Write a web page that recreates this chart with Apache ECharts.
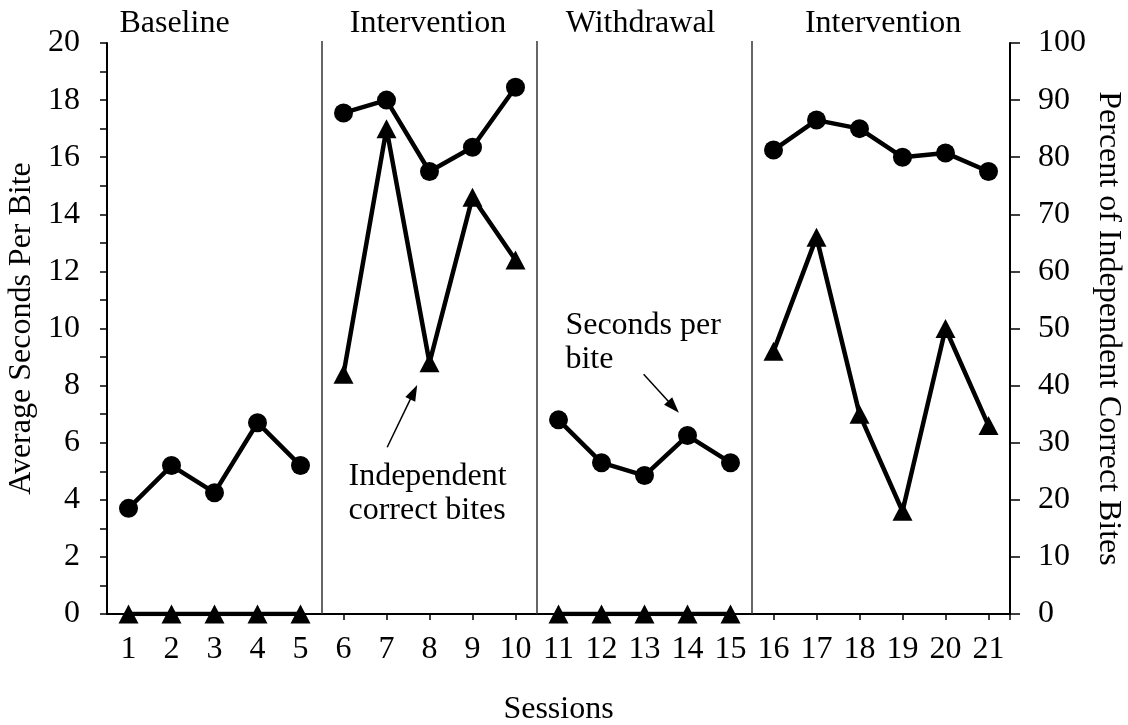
<!DOCTYPE html>
<html>
<head>
<meta charset="utf-8">
<script src="https://cdn.jsdelivr.net/npm/echarts@6/dist/echarts.min.js"></script>
<style>
  html, body { margin: 0; padding: 0; background: #fff; }
  #chart { width: 1128px; height: 725px; }
</style>
</head>
<body>
<div id="chart"></div>
<script>
// Session numbers along the x axis
const sessions = ['1','2','3','4','5','6','7','8','9','10','11','12','13','14','15','16','17','18','19','20','21'];

// Average seconds per bite (left axis, circles)
const secondsPerBite = [3.7, 5.2, 4.25, 6.7, 5.2, 17.55, 18.0, 15.5, 16.35, 18.45, 6.8, 5.3, 4.85, 6.25, 5.3, 16.25, 17.3, 17.0, 16.0, 16.15, 15.5];

// Percent of independent correct bites (right axis, triangles)
const pctIndependent = [0, 0, 0, 0, 0, 42, 85, 44, 73, 62, 0, 0, 0, 0, 0, 46, 66, 35, 18, 50, 33];

// Study phases: label and first/last session of each
const phaseNames = ['Baseline', 'Intervention', 'Withdrawal', 'Intervention'];
const phaseStart = [1, 6, 11, 16];
const phaseEnd = [5, 10, 15, 21];

// Axis ranges and tick steps
const leftTicks = { min: 0, max: 20, step: 2 };
const rightTicks = { min: 0, max: 100, step: 10 };

// Axis titles and annotation texts
const leftTitle = 'Average Seconds Per Bite';
const rightTitle = 'Percent of Independent Correct Bites';
const xTitle = 'Sessions';
const noteIndependent = 'Independent\ncorrect bites';
const noteSeconds = 'Seconds per\nbite';

// ---- layout (session / left-axis value coordinates for labels and arrows) ----
const phaseLabelAt = [2.07, 7.965, 12.91, 18.55];
const layout = {
  noteIndependent: { s: 6.116, v: 4.22 },
  noteSeconds: { s: 11.16, v: 9.52 },
  arrowIndependent: { from: [7.016, 5.84], to: [7.714, 8.02] },
  arrowSeconds: { from: [12.98, 8.40], to: [13.80, 7.05] }
};

const FONT = "'Liberation Serif', 'Times New Roman', serif";
const FS = 32;

const chart = echarts.init(document.getElementById('chart'), null, { renderer: 'canvas' });

function phaseData(values, p) {
  return values.map((v, i) => {
    const s = i + 1;
    return (s >= phaseStart[p] && s <= phaseEnd[p]) ? v : null;
  });
}

const series = [];
phaseNames.forEach((name, p) => {
  series.push({
    type: 'line',
    name: 'pct' + p,
    yAxisIndex: 1,
    data: phaseData(pctIndependent, p),
    symbol: 'triangle',
    symbolSize: [20, 19],
    showSymbol: true,
    connectNulls: false,
    lineStyle: { color: '#000', width: 4.5 },
    itemStyle: { color: '#000' },
    emphasis: { disabled: true },
    z: 3
  });
  series.push({
    type: 'line',
    name: 'spb' + p,
    yAxisIndex: 0,
    data: phaseData(secondsPerBite, p),
    symbol: 'circle',
    symbolSize: 19,
    showSymbol: true,
    connectNulls: false,
    lineStyle: { color: '#000', width: 4.5 },
    itemStyle: { color: '#000' },
    emphasis: { disabled: true },
    z: 4
  });
});

chart.setOption({
  animation: false,
  backgroundColor: '#fff',
  textStyle: { fontFamily: FONT, color: '#000' },
  grid: { left: 107, right: 118, top: 43, bottom: 111, containLabel: false, outerBoundsMode: 'none' },
  xAxis: {
    type: 'category',
    data: sessions,
    boundaryGap: true,
    axisLine: { show: true, lineStyle: { color: '#000', width: 2 } },
    axisTick: { show: true, alignWithLabel: true, length: 6, lineStyle: { color: '#000', width: 1.5 } },
    axisLabel: { fontFamily: FONT, fontSize: FS, color: '#000', margin: 20, interval: 0 },
    splitLine: { show: false }
  },
  yAxis: [
    {
      type: 'value',
      position: 'left',
      min: leftTicks.min,
      max: leftTicks.max,
      interval: leftTicks.step,
      axisLine: { show: true, lineStyle: { color: '#000', width: 2 } },
      axisTick: { show: true, length: 7, lineStyle: { color: '#000', width: 1.5 } },
      minorTick: { show: true, splitNumber: 2, length: 7, lineStyle: { color: '#000', width: 1.5 } },
      axisLabel: { fontFamily: FONT, fontSize: FS, color: '#000', margin: 27 },
      splitLine: { show: false }
    },
    {
      type: 'value',
      position: 'right',
      min: rightTicks.min,
      max: rightTicks.max,
      interval: rightTicks.step,
      axisLine: { show: true, lineStyle: { color: '#000', width: 2 } },
      axisTick: { show: true, length: 10, lineStyle: { color: '#000', width: 1.5 } },
      axisLabel: { fontFamily: FONT, fontSize: FS, color: '#000', margin: 28 },
      splitLine: { show: false }
    }
  ],
  series: series
});

// Map a (session, left-axis value) pair to pixels through the chart's own axes
const x1 = chart.convertToPixel({ xAxisIndex: 0 }, sessions[0]);
const xN = chart.convertToPixel({ xAxisIndex: 0 }, sessions[sessions.length - 1]);
function px(s) { return x1 + (s - 1) * (xN - x1) / (sessions.length - 1); }
function py(v) { return chart.convertToPixel({ yAxisIndex: 0 }, v); }

const yTop = py(leftTicks.max);
const yBottom = py(leftTicks.min);
const graphics = [];

// Phase change lines between the phases
for (let p = 0; p < phaseNames.length - 1; p++) {
  const xm = (px(phaseEnd[p]) + px(phaseStart[p + 1])) / 2;
  graphics.push({
    type: 'line',
    shape: { x1: xm, y1: yTop - 2, x2: xm, y2: yBottom },
    style: { stroke: '#333', lineWidth: 1.5 },
    z: 1
  });
}

// Closing tick at the right end of the session axis
const xEnd = px(sessions.length + 0.5);
graphics.push({
  type: 'line',
  shape: { x1: xEnd, y1: yBottom, x2: xEnd, y2: yBottom + 6 },
  style: { stroke: '#000', lineWidth: 1.5 }
});

// Phase names above the plot
phaseNames.forEach((name, p) => {
  graphics.push({
    type: 'text',
    x: px(phaseLabelAt[p]),
    y: 24,
    style: { text: name, font: FS + 'px ' + FONT, fill: '#000', textAlign: 'center', textVerticalAlign: 'middle' }
  });
});

// Axis titles
const yMid = (yTop + yBottom) / 2;
graphics.push({
  type: 'text', x: 22, y: yMid, rotation: Math.PI / 2,
  style: { text: leftTitle, font: FS + 'px ' + FONT, fill: '#000', textAlign: 'center', textVerticalAlign: 'middle' }
});
graphics.push({
  type: 'text', x: 1108, y: yMid, rotation: -Math.PI / 2,
  style: { text: rightTitle, font: FS + 'px ' + FONT, fill: '#000', textAlign: 'center', textVerticalAlign: 'middle' }
});
graphics.push({
  type: 'text', x: (px(1) + px(sessions.length)) / 2, y: 710,
  style: { text: xTitle, font: FS + 'px ' + FONT, fill: '#000', textAlign: 'center', textVerticalAlign: 'middle' }
});

// Annotation texts
[[noteIndependent, layout.noteIndependent], [noteSeconds, layout.noteSeconds]].forEach(([txt, at]) => {
  graphics.push({
    type: 'text', x: px(at.s), y: py(at.v),
    style: { text: txt, font: FS + 'px ' + FONT, fill: '#000', textAlign: 'left', textVerticalAlign: 'middle', lineHeight: 34 }
  });
});

// Annotation arrows
function arrow(a) {
  const xA = px(a.from[0]), yA = py(a.from[1]);
  const xB = px(a.to[0]), yB = py(a.to[1]);
  const len = Math.hypot(xB - xA, yB - yA);
  const ux = (xB - xA) / len, uy = (yB - yA) / len;
  const headLen = 16, headHalf = 5.5;
  const bx = xB - ux * headLen, by = yB - uy * headLen;
  graphics.push({
    type: 'line',
    shape: { x1: xA, y1: yA, x2: bx + ux * 2, y2: by + uy * 2 },
    style: { stroke: '#000', lineWidth: 1.5 }
  });
  graphics.push({
    type: 'polygon',
    shape: { points: [[xB, yB], [bx - uy * headHalf, by + ux * headHalf], [bx + uy * headHalf, by - ux * headHalf]] },
    style: { fill: '#000' }
  });
}
arrow(layout.arrowIndependent);
arrow(layout.arrowSeconds);

chart.setOption({ graphic: graphics });
</script>
</body>
</html>
